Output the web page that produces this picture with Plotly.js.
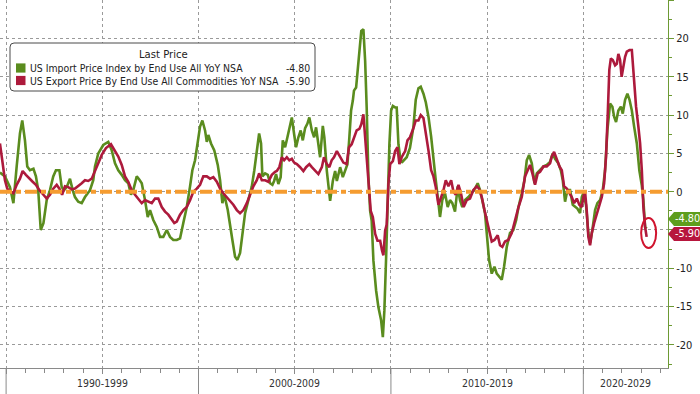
<!DOCTYPE html>
<html>
<head>
<meta charset="utf-8">
<script src="https://cdn.plot.ly/plotly-3.0.1.min.js"></script>
<style>
  html, body { margin: 0; padding: 0; background: #ffffff; }
  #chart { width: 700px; height: 394px; }
</style>
</head>
<body>
<div id="chart"></div>
<script>
// ---------------- DATA ----------------
const seriesNames = [
  "US Import Price Index by End Use All YoY NSA",
  "US Export Price By End Use All Commodities YoY NSA"
];
const legendTitle = "Last Price";
const decadeLabels = ["1990-1999", "2000-2009", "2010-2019", "2020-2029"];
const decadeStarts = [1990, 2000, 2010, 2020];
const yTickVals = [-20, -15, -10, -5, 0, 5, 10, 15, 20, 25];
// "-5" sits behind the last-value tags in the reference, so it is not drawn
const yTickText = ["-20", "-15", "-10", "", "0", "5", "10", "15", "20", ""];

// US Import Price Index YoY (%), x = decimal year
const importX = [1989.68,1989.94,1990.20,1990.38,1990.55,1990.72,1990.84,1990.98,1991.10,1991.24,1991.42,1991.55,1991.67,1991.80,1991.94,
1992.11,1992.28,1992.45,1992.59,1992.77,1992.89,1993.01,1993.15,1993.32,1993.46,1993.58,1993.75,1993.93,1994.10,1994.22,1994.36,1994.53,
1994.62,1994.79,1995.05,1995.31,1995.49,1995.66,1995.83,1996.01,1996.18,1996.35,1996.49,1996.61,1996.79,1996.92,1997.05,1997.22,1997.36,
1997.48,1997.65,1997.83,1998.00,1998.17,1998.35,1998.52,1998.69,1998.87,1999.04,1999.21,1999.39,1999.56,1999.68,1999.82,1999.96,2000.08,
2000.20,2000.34,2000.43,2000.51,2000.65,2000.82,2001.00,2001.12,2001.24,2001.34,2001.52,2001.64,2001.76,2001.90,2002.02,2002.16,2002.28,
2002.42,2002.59,2002.77,2002.90,2003.03,2003.15,2003.25,2003.32,2003.46,2003.60,2003.72,2003.84,2003.93,2004.03,2004.15,2004.27,2004.38,
2004.50,2004.62,2004.76,2004.85,2004.97,2005.07,2005.19,2005.31,2005.42,2005.54,2005.66,2005.76,2005.89,2006.01,2006.11,2006.23,2006.32,
2006.46,2006.54,2006.67,2006.75,2006.84,2006.98,2007.10,2007.19,2007.36,2007.50,2007.62,2007.74,2007.84,2007.93,2008.02,2008.08,2008.19,
2008.28,2008.36,2008.46,2008.57,2008.66,2008.74,2008.83,2008.92,2009.00,2009.09,2009.23,2009.35,2009.49,2009.58,2009.66,2009.75,2009.84,
2009.92,2010.01,2010.10,2010.22,2010.30,2010.39,2010.48,2010.56,2010.65,2010.82,2010.99,2011.17,2011.29,2011.43,2011.55,2011.69,2011.81,
2011.95,2012.09,2012.21,2012.33,2012.47,2012.55,2012.67,2012.81,2012.95,2013.07,2013.19,2013.33,2013.47,2013.59,2013.71,2013.85,2014.03,
2014.20,2014.37,2014.51,2014.63,2014.75,2014.89,2014.98,2015.10,2015.24,2015.38,2015.50,2015.62,2015.76,2015.88,2016.02,2016.19,2016.36,
2016.51,2016.63,2016.80,2016.94,2017.06,2017.18,2017.32,2017.46,2017.58,2017.75,2017.93,2018.10,2018.27,2018.41,2018.53,2018.70,2018.83,
2018.93,2019.05,2019.17,2019.31,2019.45,2019.57,2019.69,2019.83,2019.92,2020.00,2020.14,2020.26,2020.35,2020.47,2020.61,2020.73,2020.87,
2021.01,2021.13,2021.25,2021.39,2021.51,2021.60,2021.70,2021.82,2021.95,2022.05,2022.17,2022.29,2022.40,2022.52,2022.64,2022.78,2022.91,
2023.04,2023.12,2023.21,2023.29];
const importY = [2.5,2.0,0.6,-1.5,3.3,7.6,9.3,6.7,3.3,2.8,3.0,2.0,0.2,-5.0,-4.1,
-1.1,0.2,2.0,2.8,2.8,0.6,0.2,0.6,1.7,0.2,-0.7,-1.3,-1.5,-0.7,-0.2,0.2,1.5,
3.3,5.0,6.1,6.5,5.4,3.7,2.8,2.2,1.5,1.1,-0.4,0.2,2.0,1.6,1.1,-1.1,-3.3,
-2.4,-3.7,-4.6,-5.9,-5.9,-5.0,-5.9,-6.3,-6.3,-6.1,-4.1,-2.0,0.7,2.8,4.1,6.7,8.5,
9.3,8.0,6.5,7.4,6.3,5.4,3.5,1.5,-1.5,-0.4,-2.4,-4.1,-6.3,-8.5,-8.9,-8.0,-5.4,
-2.8,-1.1,0.7,2.8,5.4,7.6,6.3,2.0,2.4,2.2,1.1,0.9,1.4,2.3,1.0,1.9,6.7,
5.8,7.1,8.6,9.7,7.5,5.8,7.1,8.0,6.7,8.3,8.9,9.7,8.0,7.1,8.4,6.2,4.5,
8.6,7.1,2.7,1.0,-1.2,1.4,2.7,1.4,3.2,1.9,2.7,3.6,7.1,10.6,11.9,13.2,13.6,
15.8,18.4,21.0,21.2,17.1,11.0,1.9,-2.5,-3.8,-9.0,-12.9,-15.1,-16.8,-19.0,-15.5,-8.6,-0.3,
6.2,10.6,11.2,11.0,11.0,6.2,4.5,3.8,4.0,4.5,5.7,8.5,12.0,13.5,13.7,12.8,11.7,
9.8,7.2,4.1,1.5,-1.5,-3.3,-1.1,-0.2,-2.0,-1.1,-1.5,-2.6,0.7,-1.1,-2.0,-1.1,-0.7,
-0.2,0.4,1.1,0.2,-1.1,-2.8,-5.4,-8.9,-10.7,-9.8,-10.7,-11.1,-11.5,-9.8,-7.2,-5.4,-5.0,
-3.7,-2.0,-0.2,1.5,4.1,4.8,3.7,1.1,2.4,2.8,3.3,3.5,3.9,5.0,4.3,3.7,2.8,
1.5,-1.3,0.2,0.2,-1.7,-2.0,-2.2,-2.8,-0.7,-0.2,-1.7,-5.4,-6.7,-5.0,-2.4,-1.5,-1.1,
0.2,2.8,8.0,11.5,11.1,9.8,9.1,10.6,11.1,10.2,12.0,12.8,12.0,10.6,8.5,6.3,2.8,
0.8,-1.1,-4.6,-4.8];

// US Export Price Index YoY (%), x = decimal year
const exportX = [1989.68,1989.82,1989.94,1990.06,1990.20,1990.38,1990.55,1990.72,1990.86,1991.03,1991.21,1991.38,1991.55,1991.73,1991.94,
1992.11,1992.28,1992.45,1992.63,1992.77,1992.91,1993.06,1993.23,1993.41,1993.58,1993.75,1993.93,1994.10,1994.27,1994.45,1994.62,1994.79,
1994.97,1995.19,1995.45,1995.66,1995.83,1996.01,1996.18,1996.35,1996.53,1996.70,1996.87,1997.05,1997.22,1997.39,1997.57,1997.74,1997.91,
1998.09,1998.26,1998.43,1998.61,1998.74,1998.87,1999.04,1999.21,1999.39,1999.56,1999.73,1999.91,2000.08,2000.25,2000.43,2000.60,2000.77,
2000.95,2001.12,2001.29,2001.47,2001.64,2001.81,2001.99,2002.16,2002.33,2002.51,2002.68,2002.85,2003.03,2003.15,2003.29,2003.46,2003.63,
2003.81,2003.98,2004.07,2004.20,2004.33,2004.45,2004.59,2004.72,2004.85,2004.97,2005.11,2005.28,2005.45,2005.59,2005.76,2005.89,2006.06,
2006.23,2006.41,2006.52,2006.67,2006.80,2006.92,2007.04,2007.19,2007.36,2007.53,2007.70,2007.82,2007.96,2008.08,2008.22,2008.36,2008.46,
2008.57,2008.66,2008.74,2008.85,2008.95,2009.06,2009.18,2009.30,2009.44,2009.54,2009.61,2009.70,2009.78,2009.87,2009.96,2010.10,2010.22,
2010.34,2010.44,2010.56,2010.74,2010.86,2010.99,2011.17,2011.29,2011.43,2011.55,2011.69,2011.81,2011.95,2012.09,2012.21,2012.33,2012.47,
2012.61,2012.73,2012.85,2012.99,2013.13,2013.25,2013.37,2013.51,2013.64,2013.78,2013.94,2014.11,2014.28,2014.46,2014.58,2014.72,2014.86,
2014.98,2015.10,2015.24,2015.38,2015.55,2015.67,2015.79,2015.93,2016.10,2016.28,2016.45,2016.63,2016.80,2016.97,2017.11,2017.23,2017.35,
2017.49,2017.63,2017.75,2017.93,2018.10,2018.27,2018.36,2018.48,2018.62,2018.76,2018.88,2019.00,2019.14,2019.28,2019.40,2019.52,2019.66,
2019.79,2019.92,2020.00,2020.09,2020.18,2020.26,2020.35,2020.44,2020.56,2020.70,2020.84,2020.96,2021.08,2021.18,2021.27,2021.35,2021.43,
2021.53,2021.65,2021.74,2021.82,2021.91,2021.99,2022.08,2022.17,2022.26,2022.40,2022.52,2022.60,2022.74,2022.86,2022.95,2023.04,2023.12,
2023.21,2023.29];
const exportY = [6.3,3.3,1.5,0.4,0.0,-0.2,0.9,1.7,2.7,2.2,1.7,1.3,0.9,0.2,-0.4,
-0.9,-0.4,0.4,0.9,0.4,-0.4,0.7,0.6,0.3,0.4,0.7,1.1,1.5,1.4,1.7,2.6,3.7,
4.8,5.7,6.2,5.4,4.6,3.5,2.0,1.3,0.2,-0.4,-0.9,-1.5,-1.1,-1.3,-1.5,-0.9,-0.9,
-2.0,-2.6,-3.0,-3.7,-4.1,-3.9,-3.0,-2.4,-2.0,-1.1,0.0,0.4,0.9,2.0,2.0,1.7,1.9,
1.3,0.4,-0.2,-0.7,-1.1,-1.7,-2.4,-2.8,-2.4,-1.5,-0.4,0.7,1.5,2.4,1.5,1.5,1.3,
2.2,2.6,2.7,3.2,4.5,4.1,4.5,4.1,4.3,3.8,3.6,3.2,2.7,3.2,3.6,3.2,2.7,
2.3,3.2,4.5,3.6,3.2,4.1,4.5,5.3,4.5,3.8,3.6,5.8,6.2,7.1,8.0,8.2,8.8,
10.1,7.1,4.0,0.6,-2.5,-3.3,-5.5,-6.4,-6.4,-7.7,-8.3,-5.1,-4.3,1.0,3.6,4.0,5.3,
5.8,3.6,4.5,5.3,6.7,7.1,8.3,9.3,9.3,10.0,9.6,7.8,5.4,2.8,2.0,0.6,-1.7,
-0.7,0.2,1.5,0.7,1.5,0.0,-0.4,0.9,-0.2,-2.0,-1.1,-0.9,0.2,0.7,0.4,-0.7,-2.4,
-3.7,-5.0,-6.5,-6.3,-5.7,-7.0,-7.2,-6.5,-6.3,-5.4,-3.7,-2.0,-0.7,2.0,2.8,3.5,2.4,
0.9,2.4,2.6,3.3,3.3,3.7,4.6,5.2,4.1,3.3,2.8,0.7,0.4,-0.2,-0.7,-1.5,-0.9,
-1.7,-2.0,-0.7,0.0,-2.6,-5.9,-7.0,-5.4,-4.1,-2.8,-1.5,-0.7,1.1,4.6,10.2,15.9,17.4,
17.2,16.5,16.7,18.0,17.2,15.0,16.3,17.6,18.3,18.5,18.5,15.4,11.1,8.5,6.3,2.8,-2.0,
-4.6,-5.9];

// ---------------- STYLE ----------------
const GREEN = "#5a8c1e";
const RED = "#ad1a3c";
const TAG_GREEN = "#5e9e1c";
const TAG_RED = "#b7163d";
const ORANGE = "#f59c30";
const FONT = "'DejaVu Sans Condensed', 'Liberation Sans', Arial, sans-serif";
const FS = 10.4;

const W = 700, H = 394;
const M = {l: 0, r: 32, t: 0, b: 26};
const PW = W - M.l - M.r, PH = H - M.t - M.b;
const X_RANGE = [1989.683, 2024.40];
const Y_RANGE = [-23.02, 25.03];
const px = x => x / PW;                 // pixel -> paper x
const py = y => 1 - y / PH;             // pixel -> paper y
const yUnitsPerPx = (Y_RANGE[1] - Y_RANGE[0]) / PH;
const xUnitsPerPx = (X_RANGE[1] - X_RANGE[0]) / PW;

const lastImp = importY[importY.length - 1];
const lastExp = exportY[exportY.length - 1];
const lastExpX = exportX[exportX.length - 1];

const traces = [
  {x: importX, y: importY, type: "scatter", mode: "lines", name: seriesNames[0],
   line: {color: GREEN, width: 2.6}, hoverinfo: "skip"},
  {x: exportX, y: exportY, type: "scatter", mode: "lines", name: seriesNames[1],
   line: {color: RED, width: 2.6}, hoverinfo: "skip"}
];

const shapes = [];
const annotations = [];

// orange zero line
shapes.push({type: "line", xref: "paper", yref: "y", x0: 0, x1: 1, y0: 0, y1: 0,
  line: {color: ORANGE, width: 4, dash: "12px,4px,5px,4px"}, layer: "above"});

// legend box (rounded)
(function () {
  const x0 = px(10), x1 = px(315), y0 = py(43), y1 = py(91);
  const rx = px(4), ry = 4 / PH;
  const p = `M ${x0 + rx},${y0} L ${x1 - rx},${y0} Q ${x1},${y0} ${x1},${y0 - ry} ` +
            `L ${x1},${y1 + ry} Q ${x1},${y1} ${x1 - rx},${y1} L ${x0 + rx},${y1} ` +
            `Q ${x0},${y1} ${x0},${y1 + ry} L ${x0},${y0 - ry} Q ${x0},${y0} ${x0 + rx},${y0} Z`;
  shapes.push({type: "path", xref: "paper", yref: "paper", path: p,
    fillcolor: "#ffffff", line: {color: "#4a4a4a", width: 1}, layer: "above"});
})();
annotations.push({xref: "paper", yref: "paper", x: px(163), y: py(55), text: legendTitle,
  showarrow: false, xanchor: "center", yanchor: "middle", font: {family: FONT, size: FS + 0.8, color: "#222"}});
const rowY = [68, 80.5];
const rowColors = [GREEN, RED];
const rowVals = [lastImp, lastExp];
rowY.forEach((ry, i) => {
  shapes.push({type: "rect", xref: "paper", yref: "paper",
    x0: px(16), x1: px(25.5), y0: py(ry - 4.6), y1: py(ry + 4.6),
    fillcolor: rowColors[i], line: {width: 0}, layer: "above"});
  annotations.push({xref: "paper", yref: "paper", x: px(27.5), y: py(ry), text: seriesNames[i],
    showarrow: false, xanchor: "left", yanchor: "middle", font: {family: FONT, size: FS, color: "#222"}});
  annotations.push({xref: "paper", yref: "paper", x: px(312), y: py(ry), text: rowVals[i].toFixed(2),
    showarrow: false, xanchor: "right", yanchor: "middle", font: {family: FONT, size: FS, color: "#222"}});
});

// right-side last value tags (green first, red on top)
function tag(val, color, shiftPx) {
  const yc = val + shiftPx * yUnitsPerPx;
  const h = 7 * yUnitsPerPx;
  const tip = 1.0, body = px(PW + 6), end = px(W + 5);
  shapes.push({type: "path", xref: "paper", yref: "y",
    path: `M ${tip},${yc} L ${body},${yc + h} L ${end},${yc + h} L ${end},${yc - h} L ${body},${yc - h} Z`,
    fillcolor: color, line: {width: 0}, layer: "above"});
  annotations.push({xref: "paper", yref: "y", x: px(PW + 19), y: yc, text: val.toFixed(2),
    showarrow: false, xanchor: "center", yanchor: "middle", font: {family: FONT, size: FS + 0.4, color: "#ffffff"}});
}
tag(lastImp, TAG_GREEN, 9.5);
tag(lastExp, TAG_RED, 3);

// red ellipse around last point
shapes.push({type: "circle", xref: "x", yref: "y",
  x0: lastExpX - 5.5 * xUnitsPerPx, x1: lastExpX + 9.5 * xUnitsPerPx,
  y0: lastExp - 11 * yUnitsPerPx, y1: lastExp + 19 * yUnitsPerPx,
  line: {color: "#d0142e", width: 2}, layer: "above"});

// decade separators and labels below axis
decadeStarts.forEach((yr, i) => {
  const xp = (yr - X_RANGE[0]) / (X_RANGE[1] - X_RANGE[0]);
  shapes.push({type: "line", xref: "paper", yref: "paper", x0: xp, x1: xp, y0: 0, y1: -(H - PH) / PH,
    line: {color: "#8a8a8a", width: 1}});
  const endYr = Math.min(yr + 10, X_RANGE[1]);
  annotations.push({xref: "x", yref: "paper", x: (yr + endYr) / 2, y: -15 / PH, text: decadeLabels[i],
    showarrow: false, xanchor: "center", yanchor: "middle", font: {family: FONT, size: FS, color: "#333"}});
});

const layout = {
  width: W, height: H,
  margin: M,
  paper_bgcolor: "#ffffff", plot_bgcolor: "#ffffff",
  showlegend: false,
  font: {family: FONT, size: 11, color: "#222"},
  xaxis: {
    type: "linear", range: X_RANGE, tickmode: "linear", tick0: 1990, dtick: 5,
    showticklabels: false, ticks: "outside", ticklen: 5, tickcolor: "#8a8a8a",
    showgrid: true, gridcolor: "#9a9a9a", griddash: "dot", gridwidth: 1,
    showline: true, linecolor: "#8a8a8a", linewidth: 1, zeroline: false,
    minor: {tickmode: "linear", tick0: 1990, dtick: 1, ticks: "outside", ticklen: 4, tickcolor: "#8a8a8a", showgrid: false},
    fixedrange: true
  },
  yaxis: {
    side: "right", range: Y_RANGE, tickmode: "array", tickvals: yTickVals, ticktext: yTickText,
    ticks: "outside", ticklen: 5, tickcolor: "#6d9a34",
    showgrid: true, gridcolor: "#9a9a9a", griddash: "dot", gridwidth: 1,
    showline: true, linecolor: "#6d9a34", linewidth: 1, zeroline: false,
    tickfont: {family: FONT, size: 11, color: "#222"},
    minor: {tickmode: "linear", tick0: 2.5, dtick: 5, ticks: "outside", ticklen: 3, tickcolor: "#6d9a34", showgrid: false},
    fixedrange: true
  },
  shapes: shapes,
  annotations: annotations
};

Plotly.newPlot("chart", traces, layout, {staticPlot: true, displayModeBar: false});
</script>
</body>
</html>
